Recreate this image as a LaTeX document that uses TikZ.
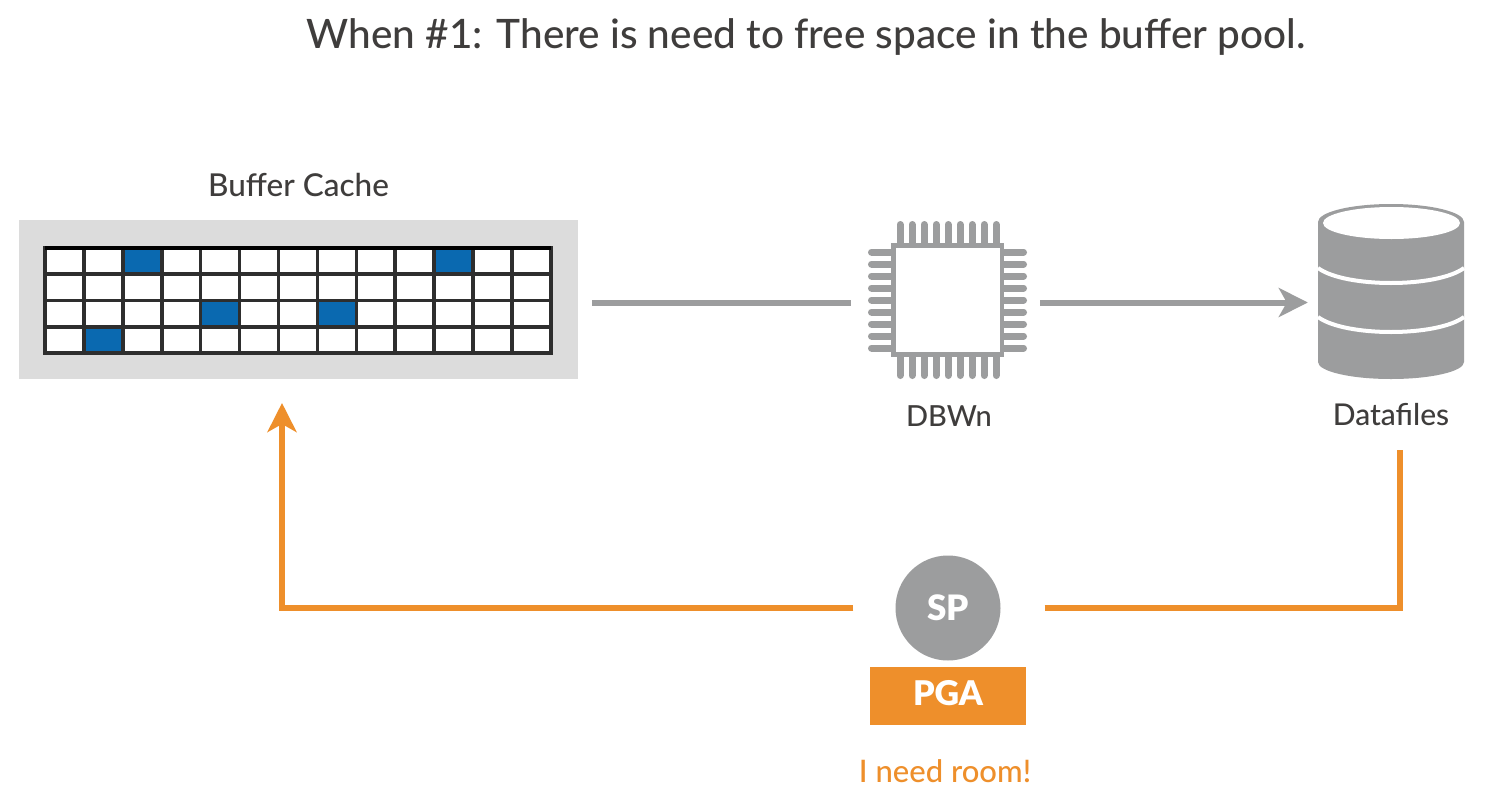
\documentclass[tikz,border=0pt]{standalone}
\usepackage{fontspec}
\setmainfont{Lato Medium}
\usetikzlibrary{arrows.meta}
\definecolor{ink}{HTML}{3F3D3C}
\definecolor{lgray}{HTML}{DCDCDC}
\definecolor{mgray}{HTML}{9C9D9E}
\definecolor{orng}{HTML}{EE8F2B}
\definecolor{cellblue}{HTML}{0A69B0}
\definecolor{gridk}{HTML}{2E2E2E}
\tikzset{
  lbl/.style={text=ink,inner sep=0pt,font=\fontsize{30}{34}\selectfont},
  pin/.style={mgray,line width=7pt,line cap=round},
  grayline/.style={mgray,line width=6pt},
  orngline/.style={orng,line width=6pt},
  head/.style={-{Stealth[length=29pt,width=29pt,inset=8pt]}},
  gridline/.style={gridk,line width=3.6pt},
}
\begin{document}
\begin{tikzpicture}[x=1pt,y=-1pt]
\useasboundingbox (0,0) rectangle (1491,790);
\fill[white] (0,0) rectangle (1491,790);
\node[lbl,font=\fontsize{40.5}{46}\selectfont] (title) at (806,37) {When \#1: There is need to free space in the buffer pool.};
\node[lbl,font=\fontsize{31.5}{36}\selectfont] (bctext) at (298.5,185) {Buffer Cache};
% cache
\node[fill=lgray,minimum width=559pt,minimum height=159pt,inner sep=0pt] (cache) at (298.5,299.5) {};
\fill[white] (45,248) rectangle (551,353);
\foreach \c/\r in {2/0,10/0,4/2,7/2,1/3}{
  \fill[cellblue] ({45+\c*38.92},{248+\r*26.25}) rectangle ({45+(\c+1)*38.92},{248+(\r+1)*26.25});
}
\foreach \i in {1,...,12}{\draw[gridline] ({45+\i*38.92},248) -- ({45+\i*38.92},353);}
\foreach \i in {1,2,3}{\draw[gridline] (45,{248+\i*26.25}) -- (551,{248+\i*26.25});}
\draw[gridk,line width=3.6pt] (45,248) rectangle (551,353);
\draw[black,line width=4.5pt] (45,248) -- (551,248);
% chip
\node[minimum width=159pt,minimum height=158pt,inner sep=0pt] (chip) at (947.5,300) {};
\foreach \i in {0,...,8}{
  \draw[pin] ({900+\i*12},224.5) -- ({900+\i*12},245);
  \draw[pin] ({900+\i*12},355) -- ({900+\i*12},375.5);
  \draw[pin] (871.5,{252+\i*12}) -- (893,{252+\i*12});
  \draw[pin] (1002,{252+\i*12}) -- (1023.5,{252+\i*12});
}
\fill[mgray] (891,243) rectangle (1004,357);
\fill[white] (895.5,248) rectangle (1000,352);
\node[lbl,font=\fontsize{29}{34}\selectfont] (dbwn) at (949,416) {DBWn};
% datafiles
\node[minimum width=146pt,minimum height=175pt,inner sep=0pt] (db) at (1391,291.5) {};
\fill[mgray] (1318,222) arc[start angle=180,end angle=360,x radius=73,y radius=18] -- (1464,362) arc[start angle=0,end angle=180,x radius=73,y radius=17] -- cycle;
\fill[white] (1391.5,223) ellipse[x radius=68.5,y radius=16];
\draw[white,line width=4pt] (1318,268) .. controls (1345,288) and (1437,288) .. (1464,268);
\draw[white,line width=4pt] (1318,317) .. controls (1345,337) and (1437,337) .. (1464,317);
\node[lbl] (dftext) at (1391,415) {Datafiles};
% grey connectors
\coordinate (wirey) at (0,302.5);
\draw[grayline,shorten <=14pt,shorten >=17pt] (cache.east |- wirey) -- (chip.west |- wirey);
\draw[grayline,head,shorten <=13pt,shorten >=10pt] (chip.east |- wirey) -- (db.west |- wirey);
% SP
\node[circle,fill=mgray,minimum size=105pt,inner sep=0pt,text=white,font=\bfseries\fontsize{35}{38}\selectfont] (sp) at (948,608) {SP};
\node[fill=orng,minimum width=156pt,minimum height=58pt,inner sep=0pt] (pga) at (948,696) {};
\node[text=white,inner sep=0pt,font=\bfseries\fontsize{34}{38}\selectfont] (pgatext) at (948,693) {PGA};
\node[lbl,text=orng,font=\fontsize{31}{36}\selectfont] (room) at (945,771) {I need room!};
% orange connectors
\coordinate (cachein) at (282,403);
\coordinate (dfin) at (1400,450);
\draw[orngline,head,shorten <=42pt] (sp.west) -| (cachein);
\draw[orngline,shorten <=44pt] (sp.east) -| (dfin);
\end{tikzpicture}
\end{document}
